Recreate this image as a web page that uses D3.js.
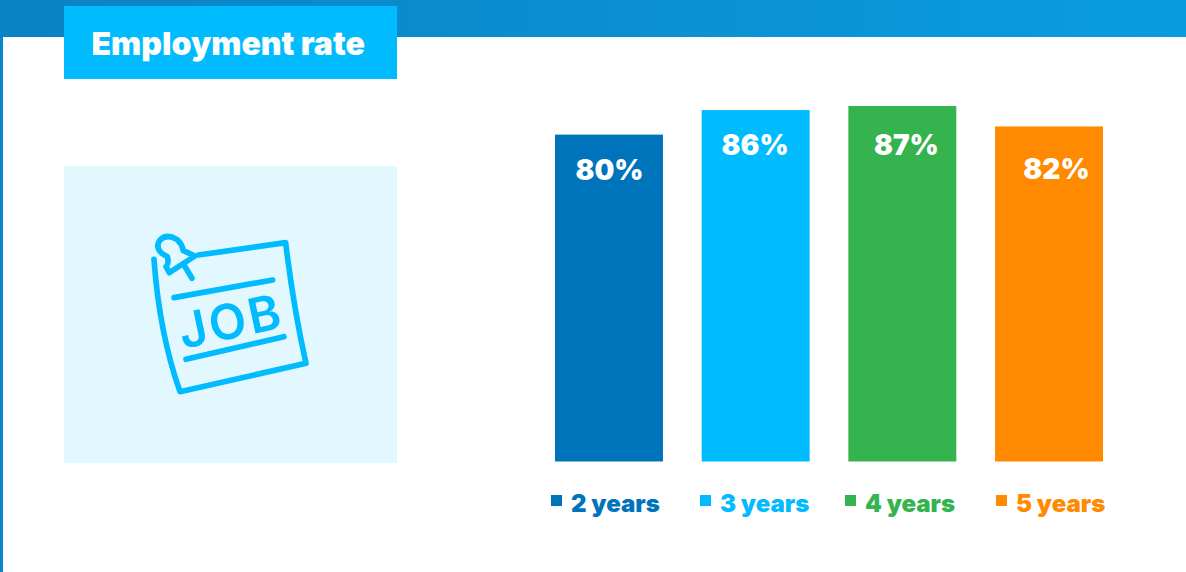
<!DOCTYPE html>
<html>
<head>
<meta charset="utf-8">
<script src="https://cdn.jsdelivr.net/npm/d3@7"></script>
<style>
  html, body { margin: 0; padding: 0; background: #fff; }
  svg { display: block; font-family: Inter, "Noto Sans", sans-serif; }
</style>
</head>
<body>
<svg id="canvas" width="1186" height="572"></svg>
<script>
const categories = ["2 years", "3 years", "4 years", "5 years"];
const rates = [80, 86, 87, 82];
const colors = ["#0074bb", "#00bcff", "#34b34e", "#ff8a00"];
const title = "Employment rate";

// labels are not centred on their bars in the original
const labelDx = [0.5, -0.5, 4, 7.5];
const labelDy = [45, 45, 49, 53];
const legendSquareX = [551, 700, 845, 996];

const svg = d3.select("#canvas");
const defs = svg.append("defs");
const grad = defs.append("linearGradient").attr("id", "topGrad");
grad.append("stop").attr("offset", "0%").attr("stop-color", "#0a82c4");
grad.append("stop").attr("offset", "100%").attr("stop-color", "#0a9ce0");

// --- Page frame and title ---
svg.append("rect").attr("width", 1186).attr("height", 37).attr("fill", "url(#topGrad)");
svg.append("rect").attr("y", 37).attr("width", 3).attr("height", 535).attr("fill", "#0a87cc");
svg.append("rect").attr("x", 64).attr("y", 6).attr("width", 333).attr("height", 73).attr("fill", "#00bcff");
svg.append("text").attr("x", 91.5).attr("y", 55).attr("fill", "#fff")
  .attr("font-size", 32).attr("font-weight", 900).text(title);

// --- Icon panel ---
svg.append("rect").attr("x", 64).attr("y", 166).attr("width", 333).attr("height", 297).attr("fill", "#e3f7ff");
const icon = svg.append("g").attr("transform", "translate(130,220) scale(0.3333)")
  .attr("fill", "none").attr("stroke", "#00bcff").attr("stroke-width", 17)
  .attr("stroke-linecap", "round").attr("stroke-linejoin", "round");
icon.append("path").attr("d", "M72,118 Q88,340 150,515 L528,430 Q490,260 467,68 L205,105");
icon.append("path").attr("d", "M132,233 L428,180");
icon.append("path").attr("d", "M168,418 L462,350");
icon.append("path").attr("d", "M118,158 L195,108 L160,92 Q155,70 140,58 Q110,40 90,60 Q75,80 95,100 L112,110 Q118,130 108,140 Z");
icon.append("path").attr("d", "M162,135 L186,175");
icon.append("text").attr("transform", "translate(302,303) rotate(-12)")
  .attr("text-anchor", "middle").attr("dy", "0.36em")
  .attr("fill", "#00bcff").attr("stroke", "none").attr("letter-spacing", 8)
  .attr("font-size", 146).attr("font-weight", 600).text("JOB");

// --- Bars ---
const x = d3.scaleBand().domain(categories).range([555, 1103]).paddingInner(0.264);
const y = d3.scaleLinear().domain([0, 87]).range([461.5, 106]);

svg.append("g").selectAll("rect").data(categories).join("rect")
  .attr("x", (d) => x(d))
  .attr("y", (d, i) => y(rates[i]))
  .attr("width", x.bandwidth())
  .attr("height", (d, i) => y(0) - y(rates[i]))
  .attr("fill", (d, i) => colors[i]);

svg.append("g").selectAll("text").data(categories).join("text")
  .attr("x", (d, i) => x(d) + x.bandwidth() / 2 + labelDx[i])
  .attr("y", (d, i) => y(rates[i]) + labelDy[i])
  .attr("text-anchor", "middle")
  .attr("fill", "#fff").attr("font-size", 28).attr("font-weight", 900)
  .text((d, i) => rates[i] + "%");

// --- Legend ---
const legend = svg.append("g").selectAll("g").data(categories).join("g")
  .attr("transform", (d, i) => `translate(${legendSquareX[i]},495)`);
legend.append("rect").attr("width", 11).attr("height", 11).attr("fill", (d, i) => colors[i]);
legend.append("text").attr("x", 20).attr("y", 17).attr("fill", (d, i) => colors[i])
  .attr("font-size", 24).attr("font-weight", 900).text((d) => d);
</script>
</body>
</html>
